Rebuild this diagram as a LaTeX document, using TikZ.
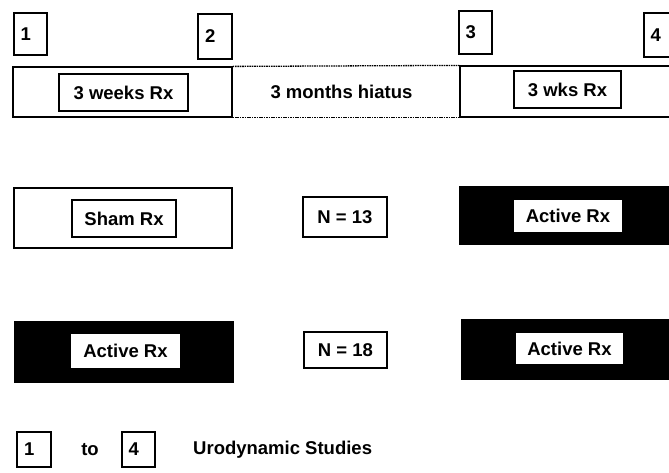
\documentclass[tikz,border=0pt]{standalone}
\usepackage{fontspec}
\setmainfont{Liberation Sans}
\usetikzlibrary{positioning}

\begin{document}
\begin{tikzpicture}[x=1pt,y=-1pt,
    txt/.style={font=\bfseries\fontsize{18.5}{20}\selectfont,inner sep=0pt},
    box/.style={txt,draw,line width=1.2pt},
    numbox/.style={box,text depth=0pt,align=left,text width=20pt,inner xsep=6pt},
    bar/.style={box,fill=black},
    lbl/.style={box,fill=white}]
    \clip (0,0) rectangle (669,472);
    \fill[white] (0,0) rectangle (669,472);
    % Urodynamik-Zeitpunkte
    \node[numbox,minimum width=33pt,minimum height=42pt] (t1) at (30.5,34) {1};
    \node[numbox,minimum width=34pt,minimum height=45pt] (t2) at (215,36.5) {2};
    \node[numbox,minimum width=33pt,minimum height=43pt] (t3) at (475.5,32.5) {3};
    \node[numbox,minimum width=33pt,minimum height=44pt] (t4) at (660.5,35) {4};
    % Zeitachse
    \node[box,minimum width=219pt,minimum height=50pt] (first) at (122.5,92) {};
    \node[box,minimum width=129pt,minimum height=37pt] (firstrx) at (123.5,92.5) {3 weeks Rx};
    \node[box,minimum width=220pt,minimum height=51pt] (second) at (570,91.5) {};
    \node[box,minimum width=107pt,minimum height=37pt] (secondrx) at (567.5,89.5) {3 wks Rx};
    \node[txt] (hiatus) at (341.5,92) {3 months hiatus};
    \draw[dash pattern=on 1.6pt off 0.8pt,line width=1.3pt] (first.north east) -- (second.north west);
    \draw[dash pattern=on 1.6pt off 0.8pt,line width=1.3pt] (first.south east) -- (second.south west);
    % Gruppe 1
    \node[box,minimum width=218pt,minimum height=60pt] (shamA) at (123,218) {};
    \node[box,minimum width=104pt,minimum height=37pt] (shamrx) at (124,218.5) {Sham Rx};
    \node[box,minimum width=84pt,minimum height=40pt] (n13) at (345,217) {N = 13};
    \node[bar,minimum width=220pt,minimum height=57pt] (activeA) at (570,215.5) {};
    \node[lbl,minimum width=110pt,minimum height=34pt] (activeArx) at (568,216) {Active Rx};
    % Gruppe 2
    \node[bar,minimum width=218pt,minimum height=60pt] (activeB) at (124,352) {};
    \node[lbl,minimum width=111pt,minimum height=36pt] (activeBrx) at (125.5,351) {Active Rx};
    \node[box,minimum width=83pt,minimum height=36pt] (n18) at (345.5,350) {N = 18};
    \node[bar,minimum width=218pt,minimum height=59pt] (activeC) at (571,349.5) {};
    \node[lbl,minimum width=109pt,minimum height=33pt] (activeCrx) at (569.5,348.5) {Active Rx};
    % Legende
    \node[numbox,minimum width=34pt,minimum height=35pt] (l1) at (34,449.5) {1};
    \node[txt] (to) at (90,450) {to};
    \node[numbox,minimum width=33pt,minimum height=35pt] (l4) at (138.5,449.5) {4};
    \node[txt,anchor=west] (uro) at (193,450) {Urodynamic Studies};
\end{tikzpicture}
\end{document}
